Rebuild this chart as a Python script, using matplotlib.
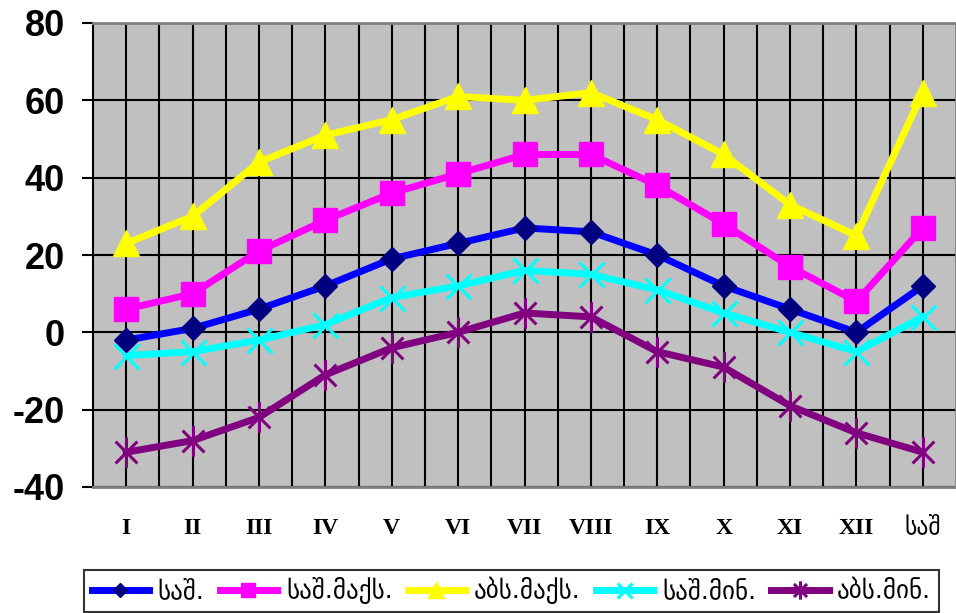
import matplotlib
matplotlib.use('Agg')
import matplotlib.pyplot as plt
import numpy as np
from matplotlib.path import Path

plt.rcParams['axes.unicode_minus'] = False

# 月份 + 年平均
months = ['I', 'II', 'III', 'IV', 'V', 'VI', 'VII', 'VIII', 'IX', 'X', 'XI', 'XII', 'საშ']

mean_t = [-2, 1, 6, 12, 19, 23, 27, 26, 20, 12, 6, 0, 12]
mean_max = [6, 10, 21, 29, 36, 41, 46, 46, 38, 28, 17, 8, 27]
abs_max = [23, 30, 44, 51, 55, 61, 60, 62, 55, 46, 33, 25, 62]
mean_min = [-6, -5, -2, 2, 9, 12, 16, 15, 11, 5, 0, -5, 4]
abs_min = [-31, -28, -22, -11, -4, 0, 5, 4, -5, -9, -19, -26, -31]

labels = ['საშ.', 'საშ.მაქს.', 'აბს.მაქს.', 'საშ.მინ.', 'აბს.მინ.']

# Excel 风格的星形标记
star = Path([(-1, -1), (1, 1), (-1, 1), (1, -1), (0, -1.4), (0, 1.4)],
            [Path.MOVETO, Path.LINETO, Path.MOVETO, Path.LINETO, Path.MOVETO, Path.LINETO])

fig = plt.figure(figsize=(9.56, 6.13), dpi=100, facecolor='white')
ax = fig.add_axes([93 / 956, 1 - 487 / 613, 1 - 93 / 956, (487 - 23) / 613])
ax.set_facecolor('#C0C0C0')

x = np.arange(len(months))
lw = 5
ax.plot(x, mean_t, color='#0000FF', lw=lw, marker='D', ms=12,
        mfc='#000080', mec='#000080', label=labels[0], zorder=5)
ax.plot(x, mean_max, color='#FF00FF', lw=lw, marker='s', ms=17,
        mfc='#FF00FF', mec='#FF00FF', label=labels[1], zorder=4)
ax.plot(x, abs_max, color='#FFFF00', lw=lw, marker='^', ms=19,
        mfc='#FFFF00', mec='#FFFF00', label=labels[2], zorder=3)
ax.plot(x, mean_min, color='#00FFFF', lw=lw, marker='x', ms=18, mew=2.2,
        mec='#00FFFF', label=labels[3], zorder=4)
ax.plot(x, abs_min, color='#800080', lw=lw, marker=star, ms=22, mew=2.2,
        mec='#800080', label=labels[4], zorder=4)

ax.set_xlim(-0.5, len(months) - 0.5)
ax.set_ylim(-40, 80)
ax.set_yticks(np.arange(-40, 81, 20))
ax.set_xticks(x)
ax.set_xticks(x[:-1] + 0.5, minor=True)

# 网格线
ax.grid(axis='both', which='major', color='black', lw=1.5, zorder=1)
ax.grid(axis='x', which='minor', color='black', lw=1.5, zorder=1)
ax.set_axisbelow(True)

for s in ['top', 'right', 'bottom']:
    ax.spines[s].set_color('#808080')
    ax.spines[s].set_linewidth(2)
ax.spines['left'].set_color('black')
ax.spines['left'].set_linewidth(1.5)

ax.tick_params(axis='y', direction='out', length=8, width=1.5, pad=12)
ax.tick_params(axis='x', which='both', length=0, pad=22)

for t in ax.get_yticklabels():
    t.set_fontfamily(['Liberation Sans', 'DejaVu Sans'])
    t.set_fontweight('bold')
    t.set_fontsize(26)
ax.set_xticklabels(months, family=['Liberation Serif', 'DejaVu Sans'],
                   fontweight='bold', fontsize=17)
ax.get_xticklabels()[-1].set_fontweight('normal')

# 图例
leg = fig.legend(loc='lower left', bbox_to_anchor=(84 / 956, 1 / 613),
                 ncol=5, prop={'family': ['DejaVu Sans'], 'size': 18},
                 handlelength=2.3, handletextpad=0.35, columnspacing=0.6,
                 borderaxespad=0, borderpad=0.3,
                 fancybox=False, frameon=True, markerscale=0.6)
leg.get_frame().set_edgecolor('black')
leg.get_frame().set_linewidth(1.5)

fig.savefig('out.png', dpi=100, facecolor='white')
